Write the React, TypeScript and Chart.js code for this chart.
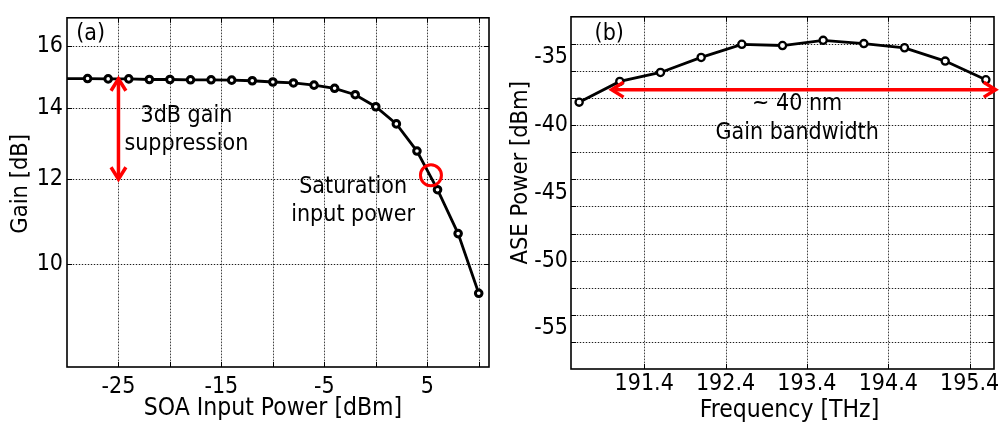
import { useEffect, useRef } from "react";
import { Chart, registerables } from "chart.js";

Chart.register(...registerables);

// ---------- Panel (a): gain vs SOA input power ----------
const soaInput = [-30, -28, -26, -24, -22, -20, -18, -16, -14, -12, -10, -8, -6, -4, -2, 0, 2, 4, 6, 8, 10];
const soaGain = [14.91, 14.91, 14.9, 14.9, 14.88, 14.88, 14.87, 14.87, 14.86, 14.84, 14.8, 14.77, 14.7, 14.6, 14.4, 14.03, 13.52, 12.75, 11.73, 10.67, 9.38];
const soaXGrid = [-25, -20, -15, -10, -5, 0, 5, 10];
const soaXLabels = [-25, -15, -5, 5];
const soaYTicks = [10, 12, 14, 16];
const soaSaturation = { x: 5.36, y: 12.1 };

// ---------- Panel (b): ASE power vs frequency ----------
const aseFreq = [190.6, 191.1, 191.6, 192.1, 192.6, 193.1, 193.6, 194.1, 194.6, 195.1, 195.6];
const asePower = [-38.3, -36.77, -36.11, -35.0, -34.03, -34.12, -33.74, -33.98, -34.29, -35.27, -36.65];
const aseXTicks = [191.4, 192.4, 193.4, 194.4, 195.4];
const aseYLabels = [-55, -50, -45, -40, -35];
const aseYGrid = [-56, -54, -52, -50, -48, -46, -44, -42, -40, -38, -36, -34];

const FAMILY = "'DejaVu Sans Condensed', 'DejaVu Sans', sans-serif";

type Note = { text: string; x: number; y: number };
type Arrow = { x1: number; y1: number; x2: number; y2: number };
type Ring = { x: number; y: number };

interface DecorCfg {
  xGrid: number[];
  yGrid: number[];
  notes: Note[];
  arrows: Arrow[];
  rings: Ring[];
  xTitle: string;
  yTitle: string;
  xTitleDx: number;
  xTitleDy: number;
  yTitleX: number;
  yTitleDy: number;
}

function makeDecor(cfg: DecorCfg) {
  return {
    id: "decor",
    beforeDatasetsDraw(chart: any) {
      const { ctx, chartArea: a } = chart;
      const xs = chart.scales.x;
      const ys = chart.scales.y;
      ctx.save();
      ctx.lineWidth = 1;
      const line = (x1: number, y1: number, x2: number, y2: number) => {
        ctx.setLineDash([]);
        ctx.strokeStyle = "rgba(0,0,0,0.18)";
        ctx.beginPath();
        ctx.moveTo(x1, y1);
        ctx.lineTo(x2, y2);
        ctx.stroke();
        ctx.setLineDash([1, 2]);
        ctx.strokeStyle = "rgba(0,0,0,0.85)";
        ctx.beginPath();
        ctx.moveTo(x1, y1);
        ctx.lineTo(x2, y2);
        ctx.stroke();
      };
      cfg.xGrid.forEach((v) => {
        const px = Math.round(xs.getPixelForValue(v)) + 0.5;
        line(px, a.top, px, a.bottom);
      });
      cfg.yGrid.forEach((v) => {
        const py = Math.round(ys.getPixelForValue(v)) + 0.5;
        line(a.left, py, a.right, py);
      });
      ctx.restore();
    },
    afterDatasetsDraw(chart: any) {
      const { ctx, chartArea: a } = chart;
      const xs = chart.scales.x;
      const ys = chart.scales.y;
      ctx.save();
      ctx.setLineDash([]);

      // frame
      ctx.strokeStyle = "#000";
      ctx.lineWidth = 1.6;
      ctx.strokeRect(a.left, a.top, a.right - a.left, a.bottom - a.top);
      // inward tick marks
      ctx.lineWidth = 1;
      cfg.xGrid.forEach((v) => {
        const px = Math.round(xs.getPixelForValue(v)) + 0.5;
        ctx.beginPath();
        ctx.moveTo(px, a.top);
        ctx.lineTo(px, a.top + 5);
        ctx.moveTo(px, a.bottom);
        ctx.lineTo(px, a.bottom - 5);
        ctx.stroke();
      });
      cfg.yGrid.forEach((v) => {
        const py = Math.round(ys.getPixelForValue(v)) + 0.5;
        ctx.beginPath();
        ctx.moveTo(a.left, py);
        ctx.lineTo(a.left + 5, py);
        ctx.moveTo(a.right, py);
        ctx.lineTo(a.right - 5, py);
        ctx.stroke();
      });

      // red rings
      ctx.strokeStyle = "#ff0000";
      ctx.lineWidth = 3;
      cfg.rings.forEach((r) => {
        ctx.beginPath();
        ctx.arc(xs.getPixelForValue(r.x), ys.getPixelForValue(r.y), 10.5, 0, Math.PI * 2);
        ctx.stroke();
      });

      // red double arrows
      const head = (tx: number, ty: number, ang: number) => {
        const len = 14;
        const spread = 0.56;
        ctx.beginPath();
        ctx.moveTo(tx - len * Math.cos(ang - spread), ty - len * Math.sin(ang - spread));
        ctx.lineTo(tx, ty);
        ctx.lineTo(tx - len * Math.cos(ang + spread), ty - len * Math.sin(ang + spread));
        ctx.stroke();
      };
      ctx.lineWidth = 3.5;
      ctx.lineJoin = "miter";
      ctx.lineCap = "butt";
      cfg.arrows.forEach((ar) => {
        const x1 = xs.getPixelForValue(ar.x1);
        const y1 = ys.getPixelForValue(ar.y1);
        const x2 = xs.getPixelForValue(ar.x2);
        const y2 = ys.getPixelForValue(ar.y2);
        const ang = Math.atan2(y2 - y1, x2 - x1);
        ctx.beginPath();
        ctx.moveTo(x1 + 3 * Math.cos(ang), y1 + 3 * Math.sin(ang));
        ctx.lineTo(x2 - 3 * Math.cos(ang), y2 - 3 * Math.sin(ang));
        ctx.stroke();
        head(x2, y2, ang);
        head(x1, y1, ang + Math.PI);
      });

      // notes
      ctx.fillStyle = "#000";
      ctx.textAlign = "center";
      ctx.textBaseline = "middle";
      ctx.font = `23px ${FAMILY}`;
      cfg.notes.forEach((n) => {
        ctx.fillText(n.text, xs.getPixelForValue(n.x), ys.getPixelForValue(n.y));
      });

      // axis titles
      ctx.font = `24.5px ${FAMILY}`;
      ctx.fillText(cfg.xTitle, (a.left + a.right) / 2 + cfg.xTitleDx, a.bottom + cfg.xTitleDy);
      ctx.font = `23.5px ${FAMILY}`;
      ctx.translate(cfg.yTitleX, a.top + cfg.yTitleDy);
      ctx.rotate(-Math.PI / 2);
      ctx.fillText(cfg.yTitle, 0, 0);
      ctx.restore();
    },
  };
}

const tickFont = { family: FAMILY, size: 23 };

function GainChart() {
  const ref = useRef<HTMLCanvasElement | null>(null);
  useEffect(() => {
    if (!ref.current) return;
    const chart = new Chart(ref.current, {
      type: "scatter",
      data: {
        datasets: [
          {
            data: soaInput.map((x, i) => ({ x, y: soaGain[i] })),
            showLine: true,
            borderColor: "#000",
            borderWidth: 2.8,
            pointRadius: (c: any) => (c.dataIndex === 0 ? 0 : 3.3),
            pointBorderWidth: 3,
            pointBorderColor: "#000",
            pointBackgroundColor: "#fff",
          },
        ],
      },
      options: {
        animation: false,
        responsive: false,
        events: [],
        layout: { padding: { left: 0, right: 11, top: 12, bottom: 0 } },
        plugins: { legend: { display: false }, tooltip: { enabled: false } },
        scales: {
          x: {
            type: "linear",
            min: -30,
            max: 11,
            grid: { display: false, drawTicks: false },
            border: { display: false },
            afterBuildTicks: (s: any) => {
              s.ticks = soaXLabels.map((v) => ({ value: v }));
            },
            afterFit: (s: any) => {
              s.height = 58;
            },
            ticks: { font: tickFont, color: "#000", padding: 6, maxRotation: 0, autoSkip: false, callback: (v: any) => String(v) },
          },
          y: {
            type: "logarithmic",
            min: 8,
            max: 17,
            grid: { display: false, drawTicks: false },
            border: { display: false },
            afterBuildTicks: (s: any) => {
              s.ticks = soaYTicks.map((v) => ({ value: v }));
            },
            afterFit: (s: any) => {
              s.width = 67;
            },
            ticks: { font: tickFont, color: "#000", padding: 4, autoSkip: false, callback: (v: any) => String(v) },
          },
        },
      } as any,
      plugins: [
        makeDecor({
          xGrid: soaXGrid,
          yGrid: soaYTicks,
          notes: [
            { text: "(a)", x: -27.7, y: 16.4 },
            { text: "3dB gain", x: -18.4, y: 13.76 },
            { text: "suppression", x: -18.4, y: 12.94 },
            { text: "Saturation", x: -2.2, y: 11.81 },
            { text: "input power", x: -2.2, y: 11.11 },
          ],
          arrows: [{ x1: -25, y1: 14.9, x2: -25, y2: 12.0 }],
          rings: [soaSaturation],
          xTitle: "SOA Input Power [dBm]",
          yTitle: "Gain [dB]",
          xTitleDx: -5,
          xTitleDy: 42,
          yTitleX: 21,
          yTitleDy: 166,
        }),
      ],
    });
    return () => chart.destroy();
  }, []);
  return <canvas ref={ref} width={500} height={425} />;
}

function AseChart() {
  const ref = useRef<HTMLCanvasElement | null>(null);
  useEffect(() => {
    if (!ref.current) return;
    const chart = new Chart(ref.current, {
      type: "scatter",
      data: {
        datasets: [
          {
            data: aseFreq.map((x, i) => ({ x, y: asePower[i] })),
            showLine: true,
            borderColor: "#000",
            borderWidth: 2.8,
            pointRadius: 3.6,
            pointBorderWidth: 2.3,
            pointBorderColor: "#000",
            pointBackgroundColor: "#fff",
          },
        ],
      },
      options: {
        animation: false,
        responsive: false,
        events: [],
        layout: { padding: { left: 0, right: 9, top: 13, bottom: 0 } },
        plugins: { legend: { display: false }, tooltip: { enabled: false } },
        scales: {
          x: {
            type: "linear",
            min: 190.5,
            max: 195.7,
            grid: { display: false, drawTicks: false },
            border: { display: false },
            afterBuildTicks: (s: any) => {
              s.ticks = aseXTicks.map((v) => ({ value: v }));
            },
            afterFit: (s: any) => {
              s.height = 56;
            },
            ticks: { font: tickFont, color: "#000", padding: 1, maxRotation: 0, autoSkip: false, callback: (v: any) => Number(v).toFixed(1) },
          },
          y: {
            type: "linear",
            min: -58,
            max: -32,
            grid: { display: false, drawTicks: false },
            border: { display: false },
            afterBuildTicks: (s: any) => {
              s.ticks = aseYLabels.map((v) => ({ value: v }));
            },
            afterFit: (s: any) => {
              s.width = 71;
            },
            ticks: { font: tickFont, color: "#000", padding: 3, autoSkip: false, callback: (v: any) => String(v) },
          },
        },
      } as any,
      plugins: [
        makeDecor({
          xGrid: aseXTicks,
          yGrid: aseYGrid,
          notes: [
            { text: "(b)", x: 190.97, y: -33.25 },
            { text: "~ 40 nm", x: 193.28, y: -38.47 },
            { text: "Gain bandwidth", x: 193.28, y: -40.6 },
          ],
          arrows: [{ x1: 191.0, y1: -37.38, x2: 195.72, y2: -37.38 }],
          rings: [],
          xTitle: "Frequency [THz]",
          yTitle: "ASE Power [dBm]",
          xTitleDx: 7,
          xTitleDy: 42,
          yTitleX: 21,
          yTitleDy: 156,
        }),
      ],
    });
    return () => chart.destroy();
  }, []);
  return <canvas ref={ref} width={503} height={425} />;
}

export default function App() {
  return (
    <div style={{ position: "fixed", left: 0, top: 0, width: 1003, height: 425, background: "#fff", overflow: "hidden" }}>
      <div style={{ position: "absolute", left: 0, top: 0, width: 500, height: 425 }}>
        <GainChart />
      </div>
      <div style={{ position: "absolute", left: 500, top: 0, width: 503, height: 425 }}>
        <AseChart />
      </div>
    </div>
  );
}
